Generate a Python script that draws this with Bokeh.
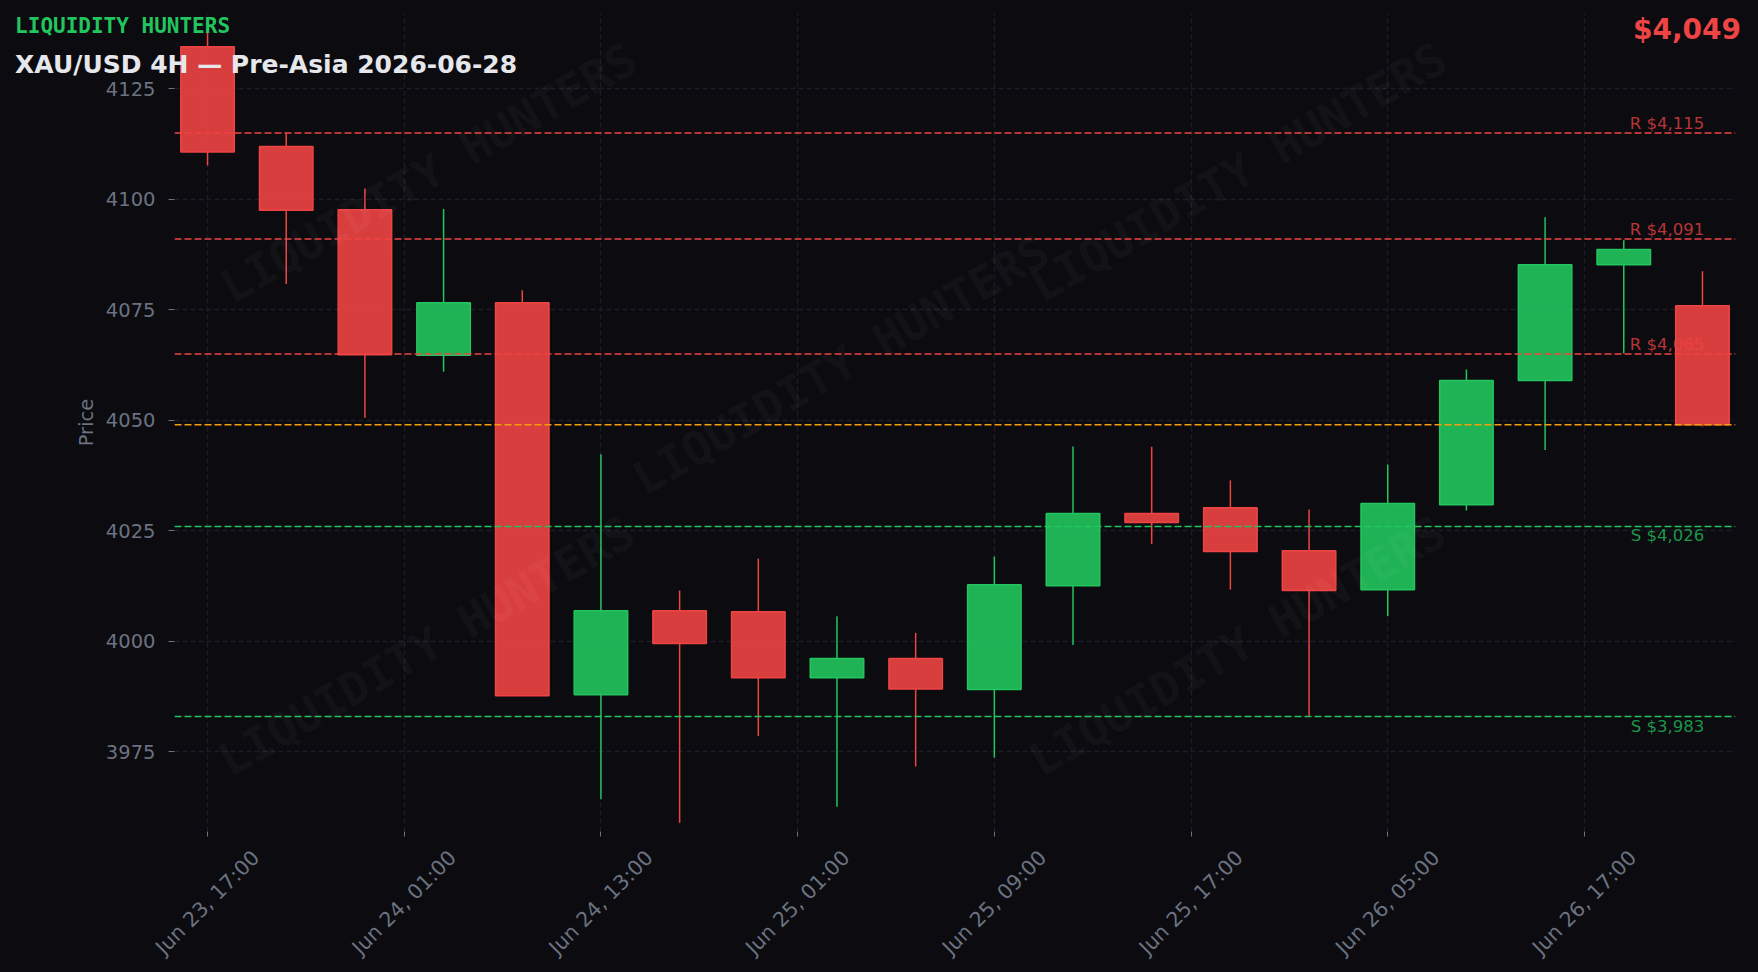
import math
from bokeh.plotting import figure
from bokeh.models import Range1d, FixedTicker, Label, Span
from bokeh.core.properties import value
from bokeh.embed import file_html
from bokeh.resources import INLINE

# ---------------- data ----------------
candle_index = list(range(20))
opens  = [4134.5, 4111.9, 4097.6, 4064.7, 4076.6, 3987.9, 4006.9, 4006.7, 3991.8, 3996.1,
          3989.1, 4012.6, 4028.9, 4030.2, 4020.5, 4011.7, 4030.9, 4059.0, 4085.2, 4075.9]
highs  = [4137.9, 4114.9, 4102.4, 4097.8, 4079.4, 4042.3, 4011.5, 4018.7, 4005.7, 4001.9,
          4019.2, 4044.1, 4044.0, 4036.4, 4029.8, 4040.0, 4061.5, 4095.9, 4090.7, 4083.7]
lows   = [4107.6, 4080.8, 4050.6, 4061.0, 3987.7, 3964.3, 3959.0, 3978.6, 3962.6, 3971.7,
          3973.7, 3999.2, 4022.0, 4011.7, 3983.2, 4005.7, 4029.6, 4043.3, 4065.1, 4048.6]
closes = [4110.7, 4097.5, 4064.8, 4076.6, 3987.7, 4006.9, 3999.5, 3991.8, 3996.1, 3989.2,
          4012.8, 4028.9, 4026.9, 4020.3, 4011.5, 4031.2, 4059.0, 4085.2, 4088.6, 4049.0]

tick_positions = [0, 2.5, 5, 7.5, 10, 12.5, 15, 17.5]
tick_labels = ["Jun 23, 17:00", "Jun 24, 01:00", "Jun 24, 13:00", "Jun 25, 01:00",
               "Jun 25, 09:00", "Jun 25, 17:00", "Jun 26, 05:00", "Jun 26, 17:00"]
price_ticks = [3975, 4000, 4025, 4050, 4075, 4100, 4125]

resistance_levels = [4115, 4091, 4065]
support_levels = [4026, 3983]
current_price = 4049

brand = "LIQUIDITY HUNTERS"
title_text = "XAU/USD 4H \u2014 Pre-Asia 2026-06-28"

# ---------------- style ----------------
BG = "#0b0b10"
UP = "#22c55e"
DOWN = "#ef4444"
ORANGE = "#f59e0b"
AXIS_TXT = "#6b7280"
GRID = "#1d1d27"

X0, X1 = -0.42, 19.42
Y0, Y1 = 3957, 4142

p = figure(width=1758, height=972, x_range=Range1d(X0, X1), y_range=Range1d(Y0, Y1),
           output_backend="svg", toolbar_location=None,
           min_border_left=174, min_border_right=23, min_border_top=13, min_border_bottom=141,
           background_fill_color=BG, border_fill_color=BG, outline_line_color=None)

# grid
for g in (p.xgrid, p.ygrid):
    g.grid_line_color = GRID
    g.grid_line_dash = "5 3"
    g.grid_line_width = 1.3

# axes
p.xaxis.ticker = FixedTicker(ticks=tick_positions, minor_ticks=[])
p.yaxis.ticker = FixedTicker(ticks=price_ticks, minor_ticks=[])
for ax in (p.xaxis[0], p.yaxis[0]):
    ax.axis_line_color = None
    ax.major_tick_line_color = AXIS_TXT
    ax.major_tick_in = 0
    ax.minor_tick_line_color = None
    ax.major_label_text_font = "DejaVu Sans"
    ax.major_label_text_font_size = "19.5px"
    ax.major_label_text_color = AXIS_TXT
p.xaxis.major_tick_out = 5
p.xaxis.major_label_text_color = None
p.yaxis.major_tick_out = 6
p.yaxis.major_label_standoff = 13
p.yaxis.axis_label = "Price"
p.yaxis.axis_label_text_font = "DejaVu Sans"
p.yaxis.axis_label_text_font_style = "normal"
p.yaxis.axis_label_text_font_size = "19.5px"
p.yaxis.axis_label_text_color = AXIS_TXT
p.yaxis.axis_label_standoff = 5

# candles
colors = [UP if c >= o else DOWN for o, c in zip(opens, closes)]
tops = [max(o, c) for o, c in zip(opens, closes)]
bots = [min(o, c) for o, c in zip(opens, closes)]
p.segment(x0=candle_index, y0=tops, x1=candle_index, y1=highs, line_color=colors, line_width=1.5)
p.segment(x0=candle_index, y0=lows, x1=candle_index, y1=bots, line_color=colors, line_width=1.5)
p.vbar(x=candle_index, width=0.68, top=tops, bottom=bots, fill_color=colors, fill_alpha=0.9,
       line_color=colors, line_width=1.5)

# watermarks
wm_positions = [(2.81, 4105.9), (13.10, 4106.1), (8.05, 4062.5), (2.78, 3998.9), (13.09, 3998.9)]
for wx, wy in wm_positions:
    p.add_layout(Label(x=wx, y=wy, text=brand, text_font="DejaVu Sans Mono",
                       text_font_style="bold", text_font_size="46px", text_color="#ffffff",
                       text_alpha=0.05, angle=math.radians(30), text_align="center",
                       text_baseline="middle"))

# level lines
label_x = X1 - 0.02 * (X1 - X0)
for lv in resistance_levels:
    p.add_layout(Span(location=lv, dimension="width", line_color=DOWN, line_width=1.5, line_dash="7 3"))
    p.add_layout(Label(x=label_x, y=lv, text=f"R ${lv:,}", text_font="DejaVu Sans",
                       text_font_size="16.5px", text_color=DOWN, text_alpha=0.75,
                       text_align="right", text_baseline="bottom"))
for lv in support_levels:
    p.add_layout(Span(location=lv, dimension="width", line_color=UP, line_width=1.5, line_dash="7 3"))
    p.add_layout(Label(x=label_x, y=lv, text=f"S ${lv:,}", text_font="DejaVu Sans",
                       text_font_size="16.5px", text_color=UP, text_alpha=0.75,
                       text_align="right", text_baseline="top"))
p.add_layout(Span(location=current_price, dimension="width", line_color=ORANGE, line_width=1.5,
                  line_dash="7 3"))

# x tick labels (centered on ticks, rotated) - overlay level so they are drawn outside the frame
p.text(x=tick_positions, y=[Y0] * len(tick_positions), text=tick_labels, y_offset=71,
       text_font=value("DejaVu Sans"), text_font_size=value("20.5px"), text_color=AXIS_TXT,
       angle=math.pi / 4, text_align="center", text_baseline="middle", level="overlay")

# titles (overlay text above the frame corner)
p.text(x=[X0], y=[Y1], text=[brand], x_offset=-159.4, y_offset=12.7,
       text_font=value("DejaVu Sans Mono"), text_font_style="bold", text_font_size=value("21px"),
       text_color=UP, text_align="left", text_baseline="alphabetic", level="overlay")
p.text(x=[X0], y=[Y1], text=[title_text], x_offset=-159.4, y_offset=51,
       text_font=value("DejaVu Sans"), text_font_style="bold", text_font_size=value("25px"),
       text_color="#e5e7eb", text_align="left", text_baseline="alphabetic", level="overlay")
p.text(x=[X1], y=[Y1], text=[f"${current_price:,}"], x_offset=5.5, y_offset=15.5,
       text_font=value("DejaVu Sans"), text_font_style="bold", text_font_size=value("28px"),
       text_color=DOWN, text_align="right", text_baseline="alphabetic", level="overlay")

html = file_html(p, INLINE)
html = html.replace("<head>", "<head><style>html,body{margin:0;padding:0;background:#0b0b10;}</style>", 1)
open("out.html", "w").write(html)
